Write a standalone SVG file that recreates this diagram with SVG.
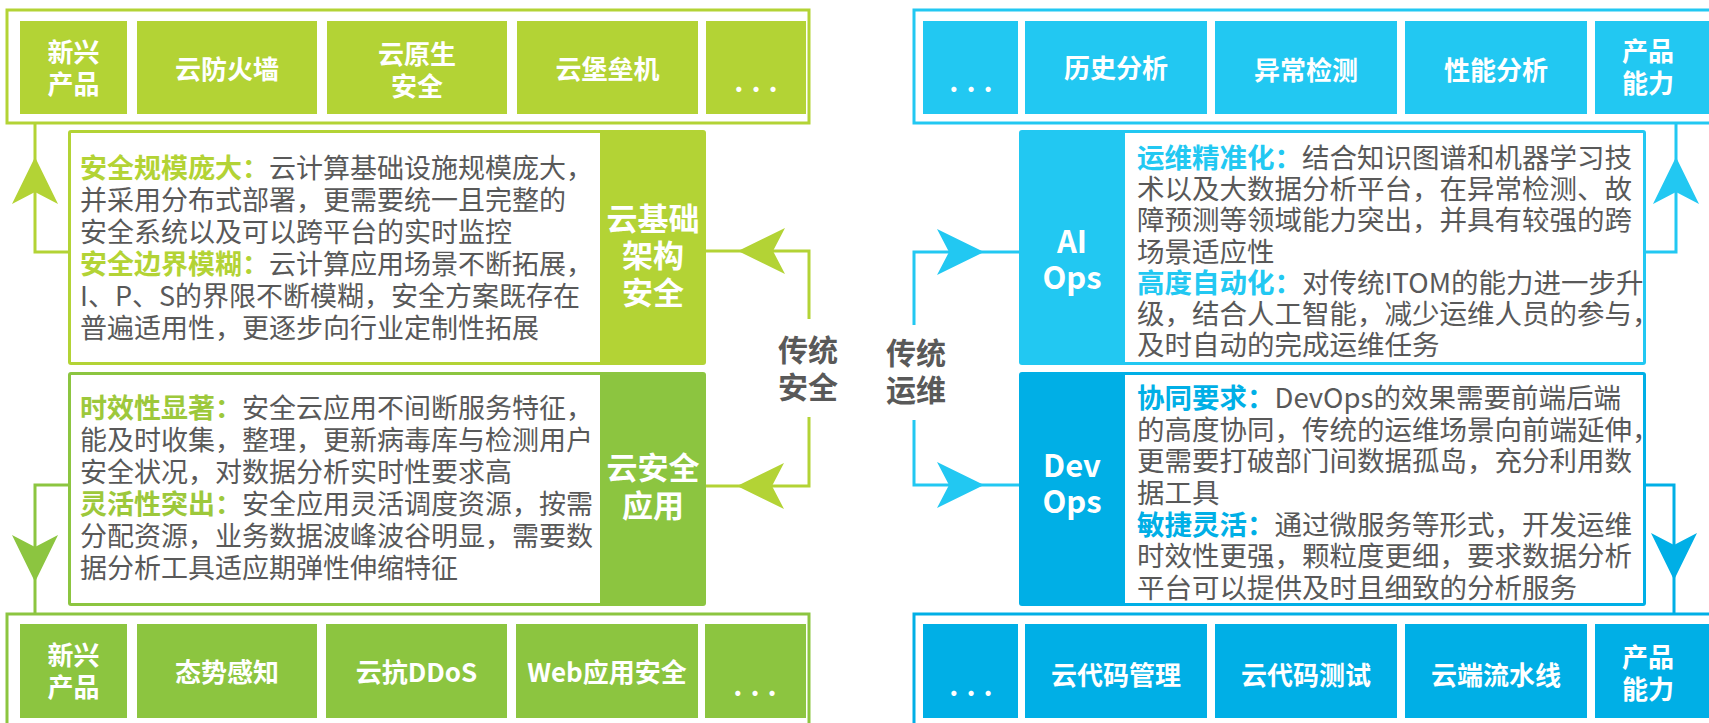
<svg xmlns="http://www.w3.org/2000/svg" xmlns:xlink="http://www.w3.org/1999/xlink" width="1709" height="723" viewBox="0 0 1709 723">
<defs>
<style>
.yg{fill:#b3d335}.g{fill:#8cc540}.lb{fill:#22c8f2}.db{fill:#00afe6}
.fr{fill:none;stroke-width:3}
.ln{fill:none;stroke-width:3}
.bt{font-family:"Noto Sans CJK SC","Noto Sans",sans-serif;font-weight:bold;font-size:26px;fill:#fff;text-anchor:middle}
.lt{font-family:"Noto Sans CJK SC","Noto Sans",sans-serif;font-weight:bold;font-size:31px;fill:#fff;text-anchor:middle}
.ct{font-family:"Noto Sans CJK SC",sans-serif;font-weight:bold;font-size:30px;fill:#595959;text-anchor:middle}
.tx{font-family:"Noto Sans CJK SC","Noto Sans",sans-serif;font-size:27.5px;fill:#595959}
.txl{font-family:"Noto Sans CJK SC","Noto Sans",sans-serif;font-size:27px;fill:#595959}
.h1{font-weight:bold;fill:#b3d335}.h2{font-weight:bold;fill:#9dc83b}.h3{font-weight:bold;fill:#22c8f2}.h4{font-weight:bold;fill:#00afe6}
.dots{font-family:"Noto Sans CJK SC",sans-serif;font-weight:bold;font-size:28px;fill:#fff;text-anchor:middle;letter-spacing:8px}
</style>
<path id="ah" d="M0,0 L-47,-23 L-35,0 L-47,23 Z"/>
</defs>

<g id="connectors">
<polyline class="ln" stroke="#b3d335" points="68,252 35,252 35,123"/>
<use xlink:href="#ah" class="yg" transform="translate(35,157) rotate(-90)"/>
<polyline class="ln" stroke="#8cc540" points="68,485 35,485 35,614"/>
<use xlink:href="#ah" class="g" transform="translate(35,582) rotate(90)"/>
<polyline class="ln" stroke="#b3d335" points="706,251 809,251 809,319"/>
<use xlink:href="#ah" class="yg" transform="translate(738,251) rotate(180)"/>
<polyline class="ln" stroke="#b3d335" points="809,417 809,486 706,486"/>
<use xlink:href="#ah" class="yg" transform="translate(737,486) rotate(180)"/>
<polyline class="ln" stroke="#22c8f2" points="914,325 914,252 1019,252"/>
<use xlink:href="#ah" class="lb" transform="translate(984,252)"/>
<polyline class="ln" stroke="#22c8f2" points="914,420 914,485 1019,485"/>
<use xlink:href="#ah" class="lb" transform="translate(984,485)"/>
<polyline class="ln" stroke="#22c8f2" points="1646,252 1676,252 1676,123"/>
<use xlink:href="#ah" class="lb" transform="translate(1676,157) rotate(-90)"/>
<polyline class="ln" stroke="#00afe6" points="1646,485 1674,485 1674,614"/>
<use xlink:href="#ah" class="db" transform="translate(1674,580) rotate(90)"/>
</g>

<g id="top-left">
<rect class="fr" stroke="#b3d335" x="7" y="10" width="802" height="113"/>
<rect class="yg" x="20" y="21" width="107" height="93"/>
<rect class="yg" x="137" y="21" width="180" height="93"/>
<rect class="yg" x="327" y="21" width="180" height="93"/>
<rect class="yg" x="517" y="21" width="181" height="93"/>
<rect class="yg" x="706" y="21" width="100" height="93"/>
<text class="bt" x="73.5" y="62">新兴</text>
<text class="bt" x="73.5" y="94">产品</text>
<text class="bt" x="227" y="79">云防火墙</text>
<text class="bt" x="417" y="64">云原生</text>
<text class="bt" x="417" y="96">安全</text>
<text class="bt" x="607.5" y="79">云堡垒机</text>
<text class="dots" x="760" y="92">...</text>
</g>

<g id="bottom-left">
<rect class="fr" stroke="#8cc540" x="7" y="614" width="802" height="113"/>
<rect class="g" x="20" y="624" width="107" height="94"/>
<rect class="g" x="137" y="624" width="180" height="94"/>
<rect class="g" x="326" y="624" width="181" height="94"/>
<rect class="g" x="516" y="624" width="182" height="94"/>
<rect class="g" x="705" y="624" width="101" height="94"/>
<text class="bt" x="73.5" y="665">新兴</text>
<text class="bt" x="73.5" y="697">产品</text>
<text class="bt" x="227" y="682">态势感知</text>
<text class="bt" x="416.5" y="682">云抗DDoS</text>
<text class="bt" x="607" y="682">Web应用安全</text>
<text class="dots" x="759" y="696">...</text>
</g>

<g id="panel-infra">
<rect class="yg" x="68" y="130" width="638" height="235" rx="3"/>
<rect fill="#fff" x="71" y="133" width="529" height="229"/>
<text class="lt" x="653" y="230">云基础</text>
<text class="lt" x="653" y="267">架构</text>
<text class="lt" x="653" y="304">安全</text>
<text class="txl" x="80" y="178"><tspan class="h1">安全规模庞大：</tspan>云计算基础设施规模庞大，</text>
<text class="txl" x="80" y="210">并采用分布式部署，更需要统一且完整的</text>
<text class="txl" x="80" y="242">安全系统以及可以跨平台的实时监控</text>
<text class="txl" x="80" y="274"><tspan class="h1">安全边界模糊：</tspan>云计算应用场景不断拓展，</text>
<text class="txl" x="80" y="306">I、P、S的界限不断模糊，安全方案既存在</text>
<text class="txl" x="80" y="338">普遍适用性，更逐步向行业定制性拓展</text>
</g>

<g id="panel-app">
<rect class="g" x="68" y="372" width="638" height="234" rx="3"/>
<rect fill="#fff" x="71" y="375" width="529" height="228"/>
<text class="lt" x="653" y="479">云安全</text>
<text class="lt" x="653" y="517">应用</text>
<text class="txl" x="80" y="418"><tspan class="h2">时效性显著：</tspan>安全云应用不间断服务特征，</text>
<text class="txl" x="80" y="450">能及时收集，整理，更新病毒库与检测用户</text>
<text class="txl" x="80" y="482">安全状况，对数据分析实时性要求高</text>
<text class="txl" x="80" y="514"><tspan class="h2">灵活性突出：</tspan>安全应用灵活调度资源，按需</text>
<text class="txl" x="80" y="546">分配资源，业务数据波峰波谷明显，需要数</text>
<text class="txl" x="80" y="578">据分析工具适应期弹性伸缩特征</text>
</g>

<g id="label-sec">
<text class="ct" x="808" y="361">传统</text>
<text class="ct" x="808" y="398">安全</text>
</g>
<g id="label-ops">
<text class="ct" x="916" y="364">传统</text>
<text class="ct" x="916" y="401">运维</text>
</g>

<g id="top-right">
<rect class="fr" stroke="#22c8f2" x="914" y="10" width="820" height="113"/>
<rect class="lb" x="923" y="21" width="95" height="93"/>
<rect class="lb" x="1025" y="21" width="182" height="93"/>
<rect class="lb" x="1215" y="21" width="182" height="93"/>
<rect class="lb" x="1405" y="21" width="182" height="93"/>
<rect class="lb" x="1595" y="21" width="130" height="93"/>
<text class="dots" x="975" y="92">...</text>
<text class="bt" x="1116" y="78">历史分析</text>
<text class="bt" x="1306" y="80">异常检测</text>
<text class="bt" x="1496" y="80">性能分析</text>
<text class="bt" x="1648" y="61">产品</text>
<text class="bt" x="1648" y="93">能力</text>
</g>

<g id="bottom-right">
<rect class="fr" stroke="#00afe6" x="914" y="614" width="820" height="113"/>
<rect class="db" x="923" y="624" width="95" height="94"/>
<rect class="db" x="1025" y="624" width="182" height="94"/>
<rect class="db" x="1215" y="624" width="182" height="94"/>
<rect class="db" x="1405" y="624" width="182" height="94"/>
<rect class="db" x="1595" y="624" width="130" height="94"/>
<text class="dots" x="975" y="696">...</text>
<text class="bt" x="1116" y="685">云代码管理</text>
<text class="bt" x="1306" y="685">云代码测试</text>
<text class="bt" x="1496" y="685">云端流水线</text>
<text class="bt" x="1648" y="667">产品</text>
<text class="bt" x="1648" y="699">能力</text>
</g>

<g id="panel-aiops">
<rect class="lb" x="1019" y="130" width="627" height="235" rx="3"/>
<rect fill="#fff" x="1125" y="133" width="518" height="229"/>
<text class="lt" x="1072" y="253">AI</text>
<text class="lt" x="1072" y="289">Ops</text>
<text class="tx" x="1137" y="168"><tspan class="h3">运维精准化：</tspan>结合知识图谱和机器学习技</text>
<text class="tx" x="1137" y="199">术以及大数据分析平台，在异常检测、故</text>
<text class="tx" x="1137" y="230">障预测等领域能力突出，并具有较强的跨</text>
<text class="tx" x="1137" y="262">场景适应性</text>
<text class="tx" x="1137" y="293"><tspan class="h3">高度自动化：</tspan>对传统ITOM的能力进一步升</text>
<text class="tx" x="1137" y="324">级，结合人工智能，减少运维人员的参与，</text>
<text class="tx" x="1137" y="355">及时自动的完成运维任务</text>
</g>

<g id="panel-devops">
<rect class="db" x="1019" y="372" width="627" height="234" rx="3"/>
<rect fill="#fff" x="1125" y="375" width="518" height="228"/>
<text class="lt" x="1072" y="477">Dev</text>
<text class="lt" x="1072" y="513">Ops</text>
<text class="tx" x="1137" y="408"><tspan class="h4">协同要求：</tspan>DevOps的效果需要前端后端</text>
<text class="tx" x="1137" y="440">的高度协同，传统的运维场景向前端延伸，</text>
<text class="tx" x="1137" y="471">更需要打破部门间数据孤岛，充分利用数</text>
<text class="tx" x="1137" y="503">据工具</text>
<text class="tx" x="1137" y="535"><tspan class="h4">敏捷灵活：</tspan>通过微服务等形式，开发运维</text>
<text class="tx" x="1137" y="566">时效性更强，颗粒度更细，要求数据分析</text>
<text class="tx" x="1137" y="598">平台可以提供及时且细致的分析服务</text>
</g>
</svg>
